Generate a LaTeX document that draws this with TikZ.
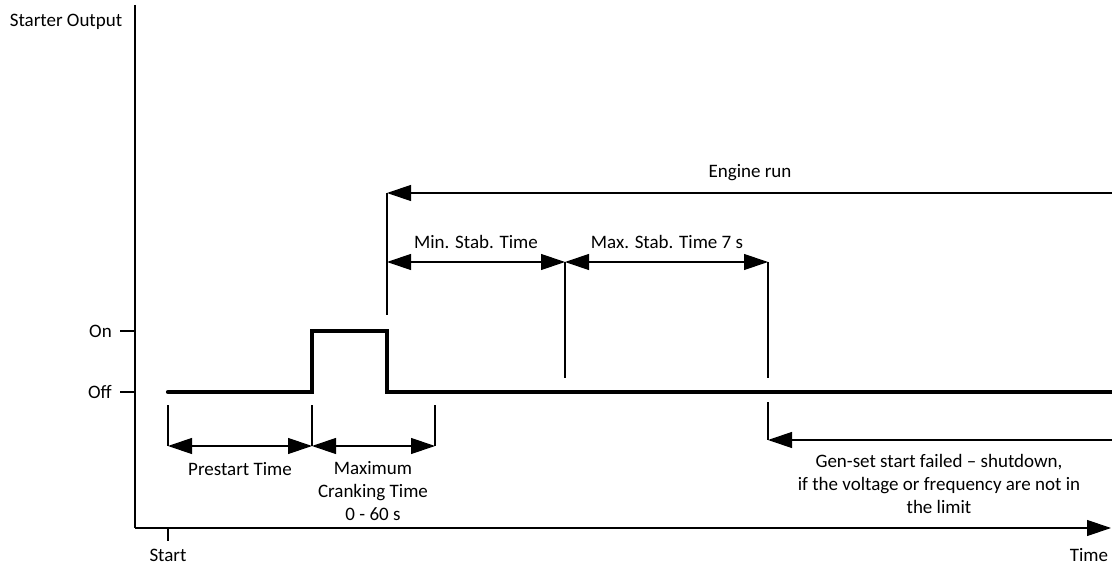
\documentclass[tikz,border=0pt]{standalone}
\usepackage{fontspec}
\setmainfont{Carlito}
\usetikzlibrary{arrows.meta}
\begin{document}
\begin{tikzpicture}[x=1pt,y=-1pt,
  thin line/.style={line width=1.2pt,black},
  signal/.style={line width=4.2pt,black,line cap=round,line join=miter},
  tip/.style={-{Triangle[length=24pt,width=16pt]}},
  dim/.style={thin line,{Triangle[length=24pt,width=16pt]}-{Triangle[length=24pt,width=16pt]}},
  lbl/.style={font=\fontsize{19}{23}\selectfont,inner sep=0pt,align=center}]
\useasboundingbox (0,0) rectangle (1112,564);
% axes
\coordinate (O) at (135,528);
\coordinate (Ytop) at (135,5);
\coordinate (Xend) at (1111,528);
\draw[thin line] (Ytop) -- (O);
\draw[thin line,tip] (O) -- (Xend);
% ticks
\coordinate (onL) at (120,331); \coordinate (onR) at (135,331);
\coordinate (offL) at (120,392); \coordinate (offR) at (135,392);
\draw[thin line] (onL) -- (onR);
\draw[thin line] (offL) -- (offR);
\coordinate (st1) at (168,528); \coordinate (st2) at (168,541);
\draw[thin line] (st1) -- (st2);
\node[lbl,anchor=east] (on) at (112,331) {On};
\node[lbl,anchor=east] (off) at (112,392) {Off};
\node[lbl,anchor=base] (start) at (168,561) {Start};
\node[lbl,anchor=base] (time) at (1089,561) {Time};
\node[lbl] (so) at (66,22) {Starter Output};
% signal
\coordinate (s0) at (168,392);
\coordinate (s1) at (312,392);
\coordinate (s2) at (312,331);
\coordinate (s3) at (387,331);
\coordinate (s4) at (387,392);
\coordinate (s5) at (1112,392);
\draw[signal] (s0) -- (s1) -- (s2) -- (s3) -- (s4) -- (s5);
% lower dimension lines
\coordinate (a1) at (168,405); \coordinate (a1b) at (168,446);
\coordinate (a2) at (312,405); \coordinate (a2b) at (312,446);
\coordinate (a3) at (435,405); \coordinate (a3b) at (435,446);
\draw[thin line] (a1) -- (a1b);
\draw[thin line] (a2) -- (a2b);
\draw[thin line] (a3) -- (a3b);
\draw[dim] (a1b) -- (a2b);
\draw[dim] (a2b) -- (a3b);
\node[lbl] (pre) at (240,469) {Prestart Time};
\node[lbl,anchor=north] (crank) at (373,461) {Maximum\\Cranking Time\\0 - 60 s};
% engine run
\coordinate (e0) at (387,315); \coordinate (e1) at (387,193);
\coordinate (e2) at (1112,193);
\draw[thin line] (e0) -- (e1);
\draw[thin line,tip] (e2) -- (e1);
\node[lbl] (er) at (750,173) {Engine run};
% stab
\coordinate (m0) at (387,262);
\coordinate (m1) at (565,262); \coordinate (m1b) at (565,378);
\coordinate (m2) at (768,262); \coordinate (m2b) at (768,378);
\draw[thin line] (m1) -- (m1b);
\draw[thin line] (m2) -- (m2b);
\draw[dim] (m0) -- (m1);
\draw[dim] (m1) -- (m2);
\node[lbl] (mins) at (476,242) {Min. Stab. Time};
\node[lbl] (maxs) at (667,242) {Max. Stab. Time 7 s};
% shutdown
\coordinate (f0) at (768,402); \coordinate (f1) at (768,440);
\coordinate (f2) at (1112,440);
\draw[thin line] (f0) -- (f1);
\draw[thin line,tip] (f2) -- (f1);
\node[lbl,anchor=north] (fail) at (939,454) {Gen-set start failed – shutdown,\\ if the voltage or frequency are not in\\the limit};
\end{tikzpicture}
\end{document}
